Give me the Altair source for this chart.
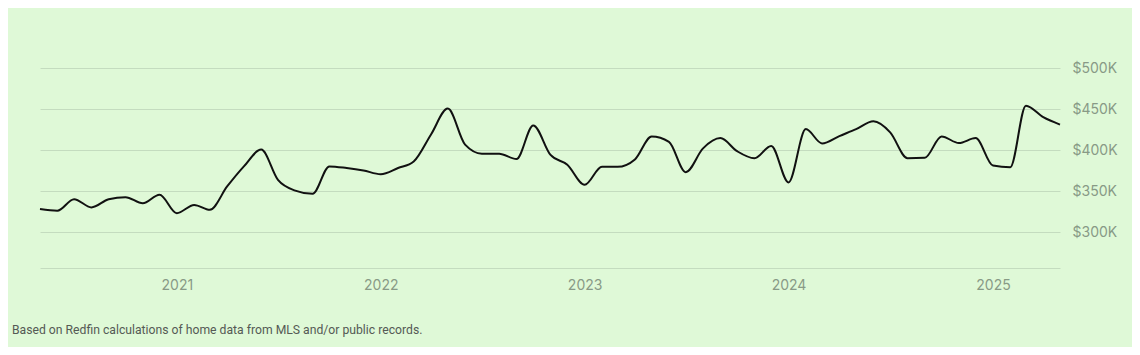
import altair as alt
import pandas as pd

months = pd.date_range("2020-05-01", "2025-05-01", freq="MS")
prices_k = [
    328, 326, 340, 330, 340, 342.5, 335, 345.5, 323, 333, 327, 355.5,
    380, 400.5, 363.5, 350.5, 346.5, 380, 378, 375, 370.5, 378, 386, 419,
    450.5, 406.5, 395.5, 395.5, 389, 430, 394, 382, 357.5, 379.5, 379.5, 388.5,
    416.5, 410, 373, 402, 414.5, 398.5, 390, 405, 360.5, 425.5, 408, 417,
    425.5, 435, 421.5, 390, 390.5, 416.5, 408.5, 414.5, 381, 379, 454, 440, 431,
]
year_ticks = ["2021-01-01", "2022-01-01", "2023-01-01", "2024-01-01", "2025-01-01"]
y_ticks = [300000, 350000, 400000, 450000, 500000]
footnote = "Based on Redfin calculations of home data from MLS and/or public records."

df = pd.DataFrame({"date": months, "price": [p * 1000 for p in prices_k]})

BG = "#dff9d7"
GRID = "#c4dcbf"
LABEL = "#889a86"
FONT = "Inter"

x = alt.X(
    "date:T",
    scale=alt.Scale(domain=["2020-05-01", "2025-05-01"]),
    axis=alt.Axis(
        values=[pd.Timestamp(d).isoformat() for d in year_ticks],
        format="%Y",
        title=None,
        ticks=False,
        grid=False,
        domain=True,
        domainColor=GRID,
        domainWidth=1,
        labelColor=LABEL,
        labelFont=FONT,
        labelFontSize=14,
        labelPadding=10,
    ),
)
y = alt.Y(
    "price:Q",
    scale=alt.Scale(domain=[256100, 500000], nice=False, zero=False),
    axis=alt.Axis(
        orient="right",
        values=y_ticks,
        labelExpr="'$' + format(datum.value / 1000, 'd') + 'K'",
        title=None,
        ticks=False,
        domain=False,
        grid=True,
        gridColor=GRID,
        gridWidth=1,
        labelColor=LABEL,
        labelFont=FONT,
        labelFontSize=14,
        labelPadding=12,
        labelAlign="left",
    ),
)

line = alt.Chart(df).mark_line(
    interpolate="monotone", color="#111111", strokeWidth=2
).encode(x=x, y=y)

note = alt.Chart(pd.DataFrame({"t": [footnote]})).mark_text(
    align="left", baseline="middle", font="Roboto", fontSize=12.2, color="#555a55"
).encode(x=alt.value(-28), y=alt.value(262), text="t:N")

chart = (
    alt.layer(line, note)
    .properties(
        width=1020,
        height=200,
        background=BG,
        padding={"left": 32, "top": 60, "right": 72, "bottom": 79},
        autosize=alt.AutoSizeParams(type="none"),
    )
    .configure_view(stroke=None)
)

chart.save("out.html", embed_options={"renderer": "svg", "actions": False})
